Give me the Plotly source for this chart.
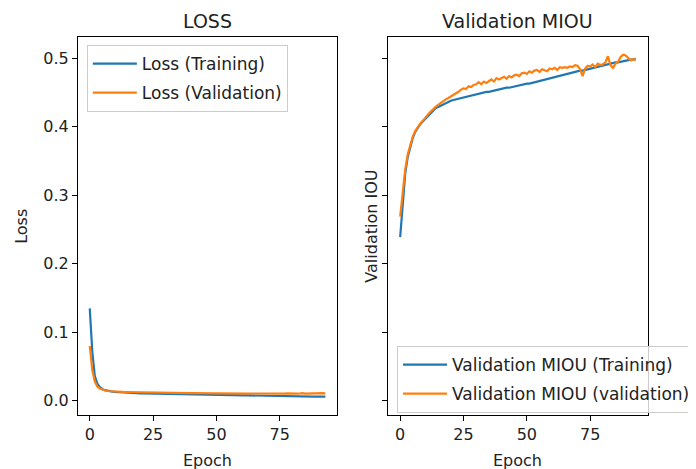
import plotly.graph_objects as go

epochs = list(range(94))

loss_training = [
    0.135, 0.072, 0.036, 0.025, 0.020, 0.017, 0.0155, 0.0145, 0.0138, 0.0133,
    0.0129, 0.0126, 0.0123, 0.0121, 0.0119, 0.0117, 0.0115, 0.0114, 0.0112, 0.0111,
    0.0110, 0.0109, 0.0108, 0.0107, 0.0106, 0.0105, 0.0104, 0.0103, 0.0102, 0.0101,
    0.0100, 0.0099, 0.0098, 0.0097, 0.0097, 0.0096, 0.0095, 0.0094, 0.0094, 0.0093,
    0.0092, 0.0092, 0.0091, 0.0090, 0.0090, 0.0089, 0.0088, 0.0088, 0.0087, 0.0086,
    0.0086, 0.0085, 0.0085, 0.0084, 0.0083, 0.0083, 0.0082, 0.0082, 0.0081, 0.0080,
    0.0080, 0.0079, 0.0079, 0.0078, 0.0077, 0.0077, 0.0076, 0.0076, 0.0075, 0.0074,
    0.0074, 0.0073, 0.0073, 0.0072, 0.0071, 0.0071, 0.0070, 0.0070, 0.0069, 0.0068,
    0.0068, 0.0067, 0.0067, 0.0066, 0.0065, 0.0065, 0.0064, 0.0064, 0.0063, 0.0062,
    0.0062, 0.0061, 0.0061, 0.0060,
]

loss_validation = [
    0.080, 0.045, 0.028, 0.021, 0.018, 0.016, 0.0150, 0.0143, 0.0139, 0.0136,
    0.0134, 0.0133, 0.0131, 0.0130, 0.0129, 0.0128, 0.0127, 0.0127, 0.0126, 0.0125,
    0.0124, 0.0124, 0.0123, 0.0122, 0.0122, 0.0121, 0.0121, 0.0120, 0.0119, 0.0120,
    0.0118, 0.0118, 0.0117, 0.0118, 0.0116, 0.0116, 0.0115, 0.0116, 0.0114, 0.0114,
    0.0113, 0.0114, 0.0112, 0.0112, 0.0111, 0.0112, 0.0110, 0.0111, 0.0110, 0.0109,
    0.0110, 0.0109, 0.0108, 0.0109, 0.0108, 0.0107, 0.0109, 0.0107, 0.0108, 0.0106,
    0.0107, 0.0106, 0.0108, 0.0105, 0.0107, 0.0106, 0.0105, 0.0108, 0.0106, 0.0105,
    0.0107, 0.0105, 0.0106, 0.0104, 0.0107, 0.0105, 0.0106, 0.0104, 0.0108, 0.0105,
    0.0106, 0.0110, 0.0105, 0.0107, 0.0112, 0.0106, 0.0108, 0.0107, 0.0110, 0.0108,
    0.0112, 0.0110, 0.0111, 0.0109,
]

miou_training = [
    0.239, 0.292, 0.332, 0.356, 0.372, 0.384, 0.393, 0.399, 0.404, 0.408,
    0.412, 0.416, 0.420, 0.424, 0.427, 0.429, 0.431, 0.433, 0.435, 0.436,
    0.438, 0.439, 0.440, 0.441, 0.442, 0.443, 0.444, 0.445, 0.446, 0.447,
    0.447, 0.448, 0.449, 0.450, 0.451, 0.451, 0.452, 0.453, 0.454, 0.454,
    0.455, 0.456, 0.457, 0.457, 0.458, 0.459, 0.460, 0.460, 0.461, 0.462,
    0.463, 0.463, 0.464, 0.465, 0.466, 0.466, 0.467, 0.468, 0.469, 0.470,
    0.471, 0.472, 0.473, 0.474, 0.475, 0.476, 0.477, 0.478, 0.479, 0.480,
    0.481, 0.482, 0.482, 0.483, 0.484, 0.485, 0.486, 0.487, 0.488, 0.489,
    0.490, 0.490, 0.491, 0.492, 0.493, 0.494, 0.494, 0.495, 0.496, 0.496,
    0.497, 0.498, 0.498, 0.499,
]

miou_validation = [
    0.269, 0.305, 0.338, 0.360, 0.374, 0.386, 0.394, 0.400, 0.405, 0.409,
    0.414, 0.418, 0.422, 0.426, 0.429, 0.432, 0.435, 0.437, 0.440, 0.442,
    0.444, 0.447, 0.449, 0.451, 0.454, 0.456, 0.455, 0.459, 0.458, 0.461,
    0.462, 0.465, 0.462, 0.466, 0.464, 0.467, 0.469, 0.466, 0.471, 0.469,
    0.471, 0.473, 0.470, 0.474, 0.472, 0.475, 0.476, 0.474, 0.478, 0.479,
    0.477, 0.481, 0.479, 0.482, 0.483, 0.480, 0.484, 0.483, 0.481, 0.485,
    0.484, 0.486, 0.483, 0.487, 0.486, 0.487, 0.486, 0.488, 0.487, 0.490,
    0.489, 0.484, 0.474, 0.485, 0.489, 0.488, 0.491, 0.487, 0.492, 0.490,
    0.491, 0.494, 0.503, 0.490, 0.486, 0.492, 0.495, 0.502, 0.505, 0.504,
    0.500, 0.497, 0.499, 0.497,
]

x_ticks = [0, 25, 50, 75]
y_ticks = [0.0, 0.1, 0.2, 0.3, 0.4, 0.5]
y_tick_labels = ["0.0", "0.1", "0.2", "0.3", "0.4", "0.5"]

BLUE = "#1f77b4"
ORANGE = "#ff7f0e"
FONT = "DejaVu Sans"
TXT = "#222222"
# the page body keeps its default 8px margin, so the figure is drawn 8px in
OFF = 8
W, H = 696 - OFF, 469 - OFF

fig = go.Figure()
fig.add_trace(go.Scatter(x=epochs, y=loss_training, mode="lines", name="Loss (Training)",
                         line=dict(color=BLUE, width=2.2), xaxis="x", yaxis="y",
                         legend="legend", legendgroup="a"))
fig.add_trace(go.Scatter(x=epochs, y=loss_validation, mode="lines", name="Loss (Validation)",
                         line=dict(color=ORANGE, width=2.2), xaxis="x", yaxis="y",
                         legend="legend", legendgroup="b"))
fig.add_trace(go.Scatter(x=epochs, y=miou_training, mode="lines", name="Validation MIOU (Training)",
                         line=dict(color=BLUE, width=2.2), xaxis="x2", yaxis="y2",
                         legend="legend2", legendgroup="c"))
fig.add_trace(go.Scatter(x=epochs, y=miou_validation, mode="lines", name="Validation MIOU (validation)",
                         line=dict(color=ORANGE, width=2.2), xaxis="x2", yaxis="y2",
                         legend="legend2", legendgroup="d"))

def px_x(p):
    return (p - OFF) / W

def px_y(p):
    return 1 - (p - OFF) / H

ydom = [px_y(415), px_y(37)]
xrange_ = [-4.65, 97.65]
yrange_ = [-0.0207, 0.531]

axis_common = dict(showline=True, linecolor="black", linewidth=1, mirror=True,
                   ticks="outside", ticklen=5, tickwidth=1, tickcolor="black",
                   showgrid=False, zeroline=False,
                   tickfont=dict(family=FONT, size=16, color=TXT))

legend_common = dict(font=dict(family=FONT, size=17, color=TXT),
                     bgcolor="rgba(255,255,255,0.8)", bordercolor="#cccccc", borderwidth=1,
                     xanchor="left", yanchor="top", traceorder="grouped",
                     tracegroupgap=4, itemwidth=44)

fig.update_layout(
    width=W, height=H,
    margin=dict(l=0, r=0, t=0, b=0),
    paper_bgcolor="white", plot_bgcolor="white",
    font=dict(family=FONT, size=16, color=TXT),
    xaxis=dict(domain=[px_x(79), px_x(342)], range=xrange_, tickvals=x_ticks,
               anchor="y", **axis_common),
    yaxis=dict(domain=ydom, range=yrange_, tickvals=y_ticks, ticktext=y_tick_labels,
               anchor="x", **axis_common),
    xaxis2=dict(domain=[px_x(394), px_x(657)], range=xrange_, tickvals=x_ticks,
                anchor="y2", **axis_common),
    yaxis2=dict(domain=ydom, range=yrange_, tickvals=y_ticks, showticklabels=False,
                anchor="x2", **axis_common),
    legend=dict(x=px_x(88), y=px_y(45), **legend_common),
    legend2=dict(x=px_x(403), y=px_y(346), **legend_common),
    showlegend=True,
)

annotations = [
    dict(text="LOSS", x=px_x(210.5), y=px_y(21), font=dict(size=19, family=FONT, color=TXT)),
    dict(text="Validation MIOU", x=px_x(525.5), y=px_y(21), font=dict(size=19, family=FONT, color=TXT)),
    dict(text="Epoch", x=px_x(210.5), y=px_y(460), font=dict(size=16, family=FONT, color=TXT)),
    dict(text="Epoch", x=px_x(525.5), y=px_y(460), font=dict(size=16, family=FONT, color=TXT)),
    dict(text="Loss", x=px_x(21), y=px_y(226), textangle=-90, font=dict(size=16, family=FONT, color=TXT)),
    dict(text="Validation IOU", x=px_x(376), y=px_y(226), textangle=-90, font=dict(size=16, family=FONT, color=TXT)),
]
for a in annotations:
    fig.add_annotation(xref="paper", yref="paper", showarrow=False,
                       xanchor="center", yanchor="middle", **a)

fig.write_html("out.html")
